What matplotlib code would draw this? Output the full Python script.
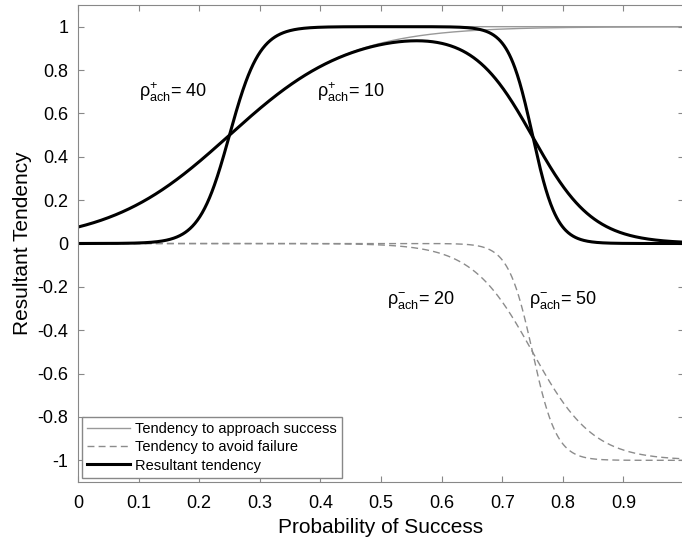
import numpy as np
import matplotlib.pyplot as plt

plt.rcParams['font.family'] = ['Liberation Sans', 'DejaVu Sans']
plt.rcParams['mathtext.fontset'] = 'custom'
plt.rcParams['mathtext.rm'] = 'Liberation Sans'
plt.rcParams['mathtext.it'] = 'Liberation Sans'

# model parameters
rho_approach = [40, 10]      # rho+_ach
rho_avoid = [50, 20]         # rho-_ach (paired with approach above)
threshold_approach = 0.25
threshold_avoid = 0.75
x_ticks = [0, 0.1, 0.2, 0.3, 0.4, 0.5, 0.6, 0.7, 0.8, 0.9]
y_ticks = [-1, -0.8, -0.6, -0.4, -0.2, 0, 0.2, 0.4, 0.6, 0.8, 1]

p = np.linspace(0, 1, 1001)

fig = plt.figure(figsize=(6.82, 5.45), dpi=100)
ax = fig.add_axes([78 / 682, 63 / 545, 606 / 682, 477 / 545])

for i in range(2):
    approach = 1 / (1 + np.exp(-rho_approach[i] * (p - threshold_approach)))
    avoid = -1 / (1 + np.exp(-rho_avoid[i] * (p - threshold_avoid)))
    ax.plot(p, approach, color='#999999', lw=1.0,
            label='Tendency to approach success' if i == 0 else None, zorder=1)
    ax.plot(p, avoid, color='#8c8c8c', lw=1.0, ls=(0, (5, 3)),
            label='Tendency to avoid failure' if i == 0 else None, zorder=1)
    ax.plot(p, approach + avoid, color='black', lw=2.2,
            label='Resultant tendency' if i == 0 else None, zorder=2)

ax.text(0.10, 0.70, r'$\mathrm{\rho^{+}_{ach}}$= 40', fontsize=13, va='center')
ax.text(0.395, 0.70, r'$\mathrm{\rho^{+}_{ach}}$= 10', fontsize=13, va='center')
ax.text(0.51, -0.26, r'$\mathrm{\rho^{-}_{ach}}$= 20', fontsize=13, va='center')
ax.text(0.745, -0.26, r'$\mathrm{\rho^{-}_{ach}}$= 50', fontsize=13, va='center')

ax.set_xlim(0, 1)
ax.set_ylim(-1.1, 1.1)
ax.set_xticks(x_ticks)
ax.set_xticklabels([f'{t:g}' for t in x_ticks])
ax.set_yticks(y_ticks)
ax.set_yticklabels([f'{t:g}' for t in y_ticks])
ax.tick_params(direction='in', top=True, right=True, labelsize=13,
               color='#888888', length=4)
ax.tick_params(axis='x', pad=9)
ax.tick_params(axis='y', pad=7)
for s in ax.spines.values():
    s.set_color('#888888')

ax.set_xlabel('Probability of Success', fontsize=15, labelpad=5)
ax.set_ylabel('Resultant Tendency', fontsize=15, labelpad=4)

leg = ax.legend(loc='lower left', fontsize=10.5, fancybox=False, framealpha=1,
                edgecolor='#888888', borderaxespad=0.3, handlelength=2.9,
                labelspacing=0.3, handletextpad=0.35, borderpad=0.35)
leg.get_frame().set_linewidth(1.0)

fig.savefig('out.png', dpi=100)
